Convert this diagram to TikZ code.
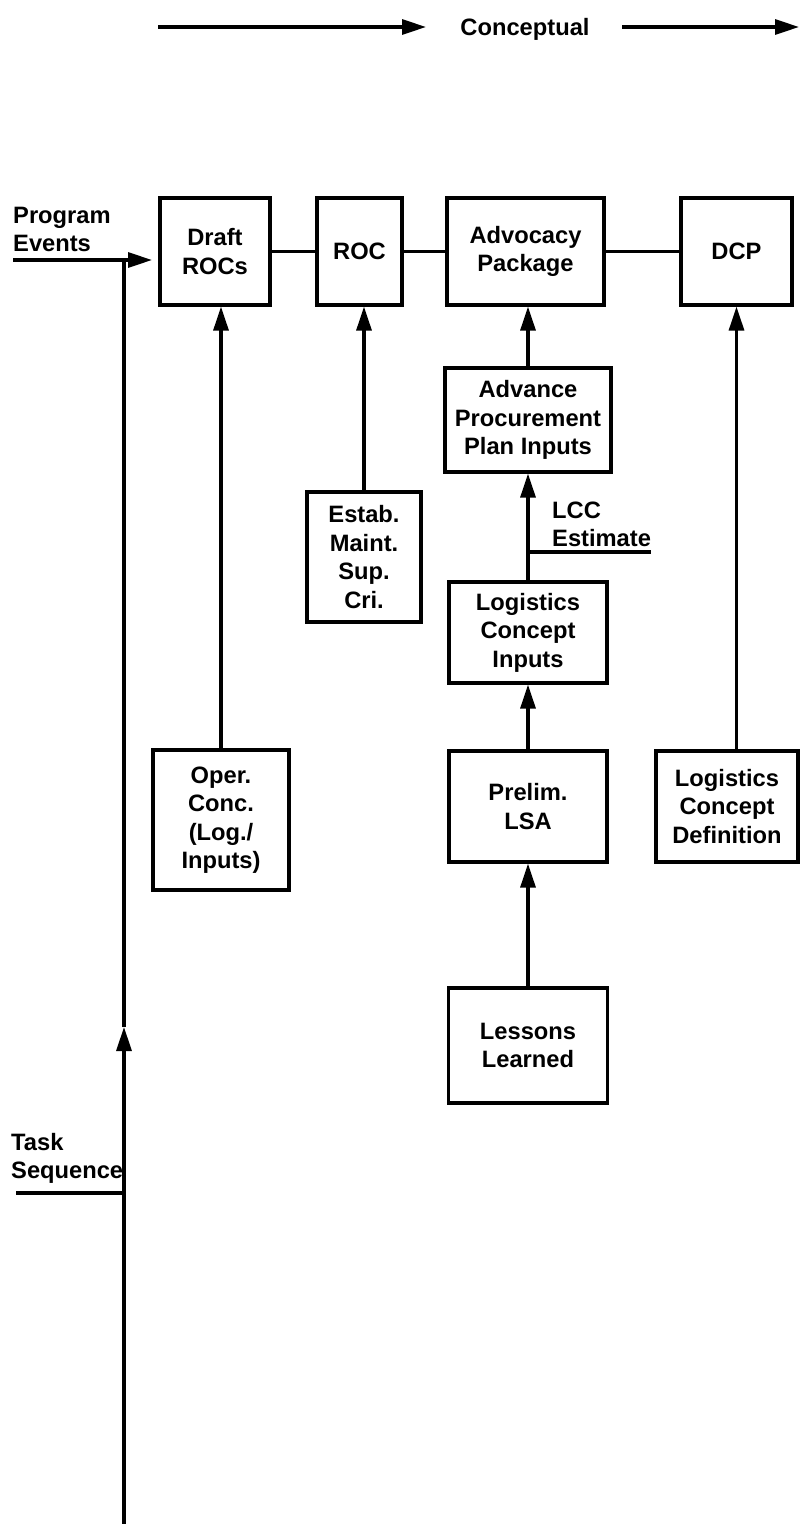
\documentclass[tikz,border=0pt]{standalone}
\usepackage{fontspec}
\setmainfont{Liberation Sans}
\usetikzlibrary{arrows.meta}
\begin{document}
\begin{tikzpicture}[x=1pt,y=-1pt,
  every node/.style={font=\fontsize{23.7}{28.5}\selectfont\bfseries},
  box/.style={draw, line width=3.2pt, inner sep=0pt, align=center},
  ln/.style={line width=3.2pt},
  arr/.style={line width=3.2pt, -{Triangle[length=24pt,width=15pt]}},
  lbl/.style={inner sep=0pt, align=left}
]
\useasboundingbox (0,0) rectangle (800,1524);
\clip (0,0) rectangle (800,1524);

% top banner
\coordinate (a1s) at (158,27);
\coordinate (a1e) at (426,27);
\coordinate (a2s) at (622,27);
\coordinate (a2e) at (799,27);
\node[inner sep=0pt, anchor=base] (concept) at (525,35) {Conceptual};
\draw[arr] (a1s) -- (a1e);
\draw[arr] (a2s) -- (a2e);

% side labels
\node[lbl, anchor=south west] (pev) at (13,252) {Program\\Events};
\node[lbl, anchor=south west] (tsq) at (11,1184) {Task\\Sequence};

% top row
\node[box, minimum width=110pt, minimum height=107pt] (draft) at (215,251.5) {Draft\\ROCs};
\node[box, minimum width=85pt, minimum height=107pt] (roc) at (359.5,251.5) {ROC};
\node[box, minimum width=157pt, minimum height=107pt] (adv) at (525.5,251.5) {Advocacy\\Package};
\node[box, minimum width=111pt, minimum height=107pt] (dcp) at (736.5,251.5) {DCP};

% middle column
\node[box, minimum width=166pt, minimum height=104pt] (appi) at (528,420) {Advance\\Procurement\\Plan Inputs};
\node[box, minimum width=114pt, minimum height=130pt] (estab) at (364,557) {Estab.\\Maint.\\Sup.\\Cri.};
\node[box, minimum width=158pt, minimum height=101pt] (lci) at (528,632.5) {Logistics\\Concept\\Inputs};
\node[box, minimum width=136pt, minimum height=140pt] (oper) at (221,820) {Oper.\\Conc.\\(Log./\\Inputs)};
\node[box, minimum width=158pt, minimum height=111pt] (prelim) at (528,806.5) {Prelim.\\LSA};
\node[box, minimum width=142pt, minimum height=111pt] (lcd) at (727,806.5) {Logistics\\Concept\\Definition};
\node[box, minimum width=159pt, minimum height=115pt] (lessons) at (528,1045.5) {Lessons\\Learned};

% LCC estimate
\node[lbl, anchor=south west] (lcc) at (552,547) {LCC\\Estimate};
\coordinate (lccj) at (528,552);
\coordinate (lcce) at (651,552);

% horizontal links top row
\draw[ln] (draft) -- (roc);
\draw[ln] (roc) -- (adv);
\draw[ln] (adv) -- (dcp);

% vertical arrows
\draw[arr] (oper.north) -- (oper.north |- draft.south);
\draw[arr] (estab.north) -- (estab.north |- roc.south);
\draw[arr] (appi.north) -- (appi.north |- adv.south);
\draw[arr] (lci.north) -- (lci.north |- appi.south);
\draw[ln] (lccj) -- (lcce);
\draw[arr] (prelim.north) -- (prelim.north |- lci.south);
\draw[arr] (lessons.north) -- (lessons.north |- prelim.south);
\draw[arr] (lcd.north -| dcp.south) -- (dcp.south);

% program events and task sequence
\coordinate (pes) at (13,260);
\coordinate (pee) at (152,260);
\coordinate (vtop) at (124,260);
\coordinate (vmid) at (124,1027);
\coordinate (vbot) at (124,1524);
\coordinate (tss) at (16,1193);
\coordinate (tse) at (124,1193);
\draw[arr] (pes) -- (pee);
\draw[arr] (vbot) -- (vmid);
\draw[ln] (vmid) -- (vtop);
\draw[ln] (tss) -- (tse);
\end{tikzpicture}
\end{document}
